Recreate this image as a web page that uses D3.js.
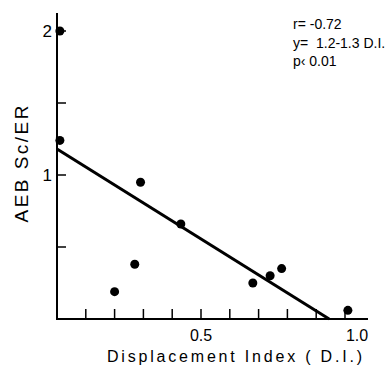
<!DOCTYPE html>
<html>
<head>
<meta charset="utf-8">
<script src="https://cdn.jsdelivr.net/npm/d3@7"></script>
<style>
  body { margin: 0; background: #fff; }
  svg { display: block; font-family: "Liberation Sans", Arial, sans-serif; }
</style>
</head>
<body>
<div id="chart"></div>
<script>
// data
var displacement = [0.01, 0.01, 0.29, 0.43, 0.27, 0.20, 0.68, 0.74, 0.78, 1.01];
var aebRatio     = [2.00, 1.24, 0.95, 0.66, 0.38, 0.19, 0.25, 0.30, 0.35, 0.06];
var fitLine = [[0, 1.18], [0.945, 0]];
var xTicks = d3.range(1, 11).map(function(d){ return d / 10; });
var xLabels = [0.5, 1.0];
var yTicks = [0.5, 1, 1.5, 2];
var yLabels = [1, 2];
var stats = ["r= -0.72", "y=  1.2-1.3 D.I.", "p\u2039 0.01"];

var w = 385, h = 368;
var x = d3.scaleLinear().domain([0, 1]).range([57, 345]);
var y = d3.scaleLinear().domain([0, 2]).range([319, 31]);

var svg = d3.select("#chart").append("svg")
	.attr("width", w)
	.attr("height", h);

// axes
svg.append("line")
	.attr("x1", x(0)).attr("y1", y(0))
	.attr("x2", x(0)).attr("y2", 13)
	.style("stroke", "#000").style("stroke-width", 2);
svg.append("line")
	.attr("x1", x(0) - 1).attr("y1", y(0))
	.attr("x2", 368).attr("y2", y(0))
	.style("stroke", "#000").style("stroke-width", 2);

// inward ticks
svg.selectAll("line.xtick")
	.data(xTicks)
	.enter().append("line")
		.attr("class", "xtick")
		.attr("x1", function(d){ return x(d); })
		.attr("x2", function(d){ return x(d); })
		.attr("y1", y(0))
		.attr("y2", y(0) - 10)
		.style("stroke", "#000").style("stroke-width", 1.5);

svg.selectAll("line.ytick")
	.data(yTicks)
	.enter().append("line")
		.attr("class", "ytick")
		.attr("x1", x(0))
		.attr("x2", x(0) + 9)
		.attr("y1", function(d){ return y(d); })
		.attr("y2", function(d){ return y(d); })
		.style("stroke", "#000").style("stroke-width", 1.5);

// tick labels
svg.selectAll("text.xlab")
	.data(xLabels)
	.enter().append("text")
		.attr("class", "xlab")
		.attr("x", function(d){ return x(d) + (d === 1 ? 12 : 0); })
		.attr("y", 341)
		.attr("text-anchor", "middle")
		.style("font-size", "16px")
		.text(function(d){ return d.toFixed(1); });

svg.selectAll("text.ylab")
	.data(yLabels)
	.enter().append("text")
		.attr("class", "ylab")
		.attr("x", x(0) - 5)
		.attr("y", function(d){ return y(d) + 6; })
		.attr("text-anchor", "end")
		.style("font-size", "17px")
		.text(function(d){ return d; });

// axis titles
svg.append("text")
	.attr("x", 107).attr("y", 362)
	.attr("textLength", 255)
	.style("font-size", "16px")
	.text("Displacement  Index ( D.I.)");

svg.append("text")
	.attr("transform", "translate(28,164) rotate(-90)")
	.attr("text-anchor", "middle")
	.attr("textLength", 117)
	.style("font-size", "19px")
	.text("AEB Sc/ER");

// regression line
svg.append("path")
	.datum(fitLine)
	.attr("d", d3.line()
		.x(function(d){ return x(d[0]); })
		.y(function(d){ return y(d[1]); }))
	.style("fill", "none")
	.style("stroke", "#000")
	.style("stroke-width", 3);

// points
svg.selectAll("circle")
	.data(displacement)
	.enter().append("circle")
		.attr("cx", function(d){ return x(d); })
		.attr("cy", function(d, i){ return y(aebRatio[i]); })
		.attr("r", 4.5)
		.style("fill", "#000");

// stats block
svg.selectAll("text.stat")
	.data(stats)
	.enter().append("text")
		.attr("class", "stat")
		.attr("x", 293)
		.attr("y", function(d, i){ return 29 + i * 18.5; })
		.style("font-size", "14px")
		.style("white-space", "pre")
		.text(function(d){ return d; });
</script>
</body>
</html>
